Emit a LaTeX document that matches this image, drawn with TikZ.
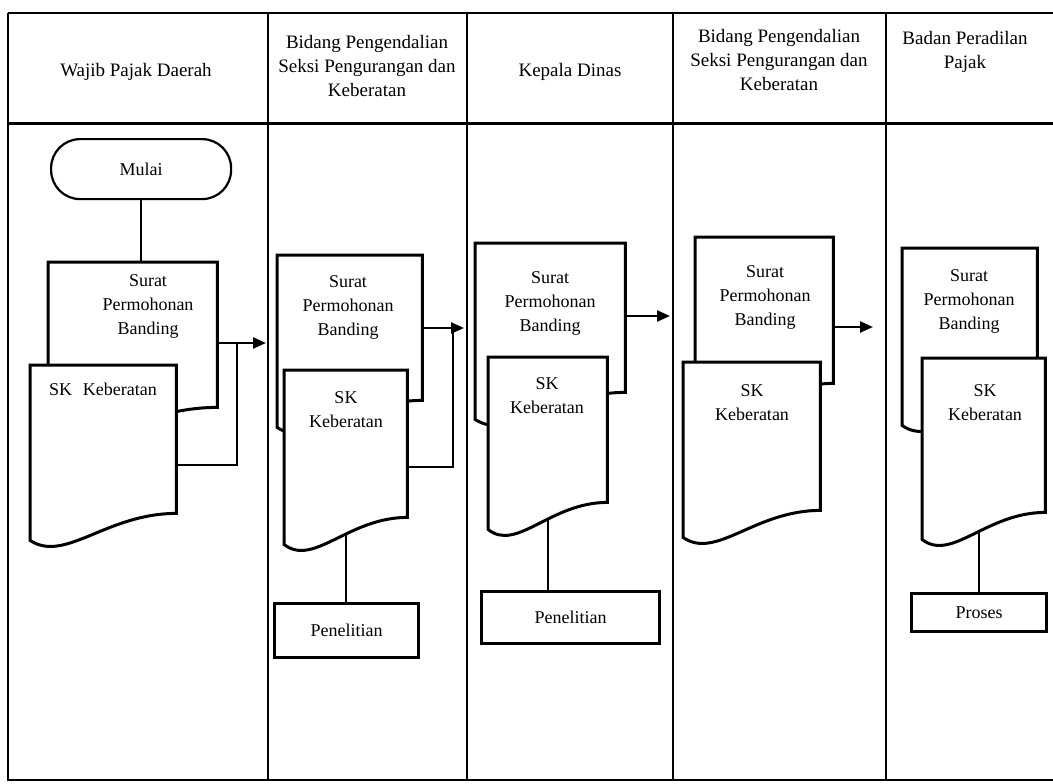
\documentclass[tikz,border=0pt]{standalone}
\usepackage{fontspec}
\setmainfont{Liberation Serif}
\usetikzlibrary{arrows.meta,calc}
\tikzset{
  frame/.style={line width=2pt},
  hdr/.style={font=\fontsize{19}{24}\selectfont, align=center, inner sep=0pt},
  txt/.style={font=\fontsize{18}{24}\selectfont, align=center, inner sep=0pt},
  docbox/.style={draw=none, inner sep=0pt, anchor=north west},
  docline/.style={line width=3pt, fill=white},
  procbox/.style={draw, line width=3pt, fill=white, inner sep=0pt, anchor=north west,
                  font=\fontsize{18}{24}\selectfont},
  termbox/.style={draw, line width=2.2pt, rounded corners=29pt, fill=white, inner sep=0pt,
                  anchor=north west, font=\fontsize{18}{24}\selectfont},
  conn/.style={line width=1.8pt},
  arr/.style={line width=2.4pt, -{Triangle[length=13pt,width=11pt]}},
}
\newcommand\docshape[1]{%
  \draw[docline] (#1.north west) -- (#1.north east) -- (#1.south east)
    .. controls ($(#1.south west)!0.52!(#1.south east)$) and ($(#1.south west)!0.24!(#1.south east)+(0,-50)$)
    .. ($(#1.south west)+(0,-27)$) -- cycle;}
\begin{document}
\begin{tikzpicture}[x=1pt,y=1pt]
\useasboundingbox (0,0) rectangle (1053,-784);
% frame
\draw[line width=2.4pt] (8,-13) -- (1053,-13);
\draw[line width=3pt] (8,-123) -- (1053,-123);
\draw[frame] (8,-13) -- (8,-780) -- (1053,-780);
\foreach \xx in {268,467,673,886} \draw[frame] (\xx,-13) -- (\xx,-780);
% headers
\node[hdr] (h1) at (136,-72) {Wajib Pajak Daerah};
\node[hdr] (h2) at (367,-66) {Bidang Pengendalian\\Seksi Pengurangan dan\\Keberatan};
\node[hdr] (h3) at (570,-72) {Kepala Dinas};
\node[hdr] (h4) at (779,-60) {Bidang Pengendalian\\Seksi Pengurangan dan\\Keberatan};
\node[hdr] (h5) at (965,-52) {Badan Peradilan\\Pajak};

% node geometry
\node[termbox, minimum width=180pt, minimum height=60pt] (M) at (50,-138) {Mulai};
\node[docbox, minimum width=169pt, minimum height=145pt] (S1) at (48,-262) {};
\node[docbox, minimum width=146pt, minimum height=148pt] (K1) at (30,-365) {};
\node[docbox, minimum width=145pt, minimum height=145pt] (S2) at (277,-255) {};
\node[docbox, minimum width=123pt, minimum height=147pt] (K2) at (284,-370) {};
\node[docbox, minimum width=150pt, minimum height=149pt] (S3) at (475,-243) {};
\node[docbox, minimum width=119pt, minimum height=145pt] (K3) at (488,-357) {};
\node[docbox, minimum width=138pt, minimum height=146pt] (S4) at (695,-237) {};
\node[docbox, minimum width=137pt, minimum height=148pt] (K4) at (683,-362) {};
\node[docbox, minimum width=135pt, minimum height=150pt] (S5) at (902,-248) {};
\node[docbox, minimum width=123pt, minimum height=154pt] (K5) at (922,-358) {};

% connection points
\coordinate (t1) at (266,-343);
\coordinate (j1) at (237,-343);
\coordinate (k1) at (237,-465);
\coordinate (t2) at (464,-328);
\coordinate (j2) at (453,-328);
\coordinate (k2) at (453,-467);
\coordinate (t3) at (670,-316);
\coordinate (t4) at (873,-327);

% process boxes
\node[procbox, minimum width=144pt, minimum height=54pt] (P2) at (273,-602) {Penelitian};
\node[procbox, minimum width=178pt, minimum height=52pt] (P3) at (480,-590) {Penelitian};
\node[procbox, minimum width=135pt, minimum height=38pt] (P5) at (910,-592) {Proses};

% connectors (drawn under the documents)
\draw[conn] (M.south) -- (M.south |- S1.north);
\draw[conn] (K1.east |- k1) -- (k1) -- (j1);
\draw[arr] (S1.east |- t1) -- (t1);
\draw[conn] (K2.east |- k2) -- (k2) -- (j2);
\draw[arr] (S2.east |- t2) -- (t2);
\draw[arr] (S3.east |- t3) -- (t3);
\draw[arr] (S4.east |- t4) -- (t4);
\draw[conn] (K2.south) -- (K2.south |- P2.north);
\draw[conn] (K3.south) -- (K3.south |- P3.north);
\draw[conn] (P5.north) -- (P5.north |- K5.south);

% documents
\docshape{S1}
\node[txt] (S1t) at (148,-306) {Surat\\Permohonan\\Banding};
\docshape{K1}
\node[txt] (K1t) at (103,-389) {SK\hspace{0.6em}Keberatan};

\docshape{S2}
\node[txt] (S2t) at (348,-307) {Surat\\Permohonan\\Banding};
\docshape{K2}
\node[txt] (K2t) at (346,-410) {SK\\Keberatan};

\docshape{S3}
\node[txt] (S3t) at (550,-303) {Surat\\Permohonan\\Banding};
\docshape{K3}
\node[txt] (K3t) at (547,-396) {SK\\Keberatan};

\docshape{S4}
\node[txt] (S4t) at (765,-297) {Surat\\Permohonan\\Banding};
\docshape{K4}
\node[txt] (K4t) at (752,-403) {SK\\Keberatan};

\docshape{S5}
\node[txt] (S5t) at (969,-301) {Surat\\Permohonan\\Banding};
\docshape{K5}
\node[txt] (K5t) at (985,-403) {SK\\Keberatan};
\end{tikzpicture}
\end{document}
